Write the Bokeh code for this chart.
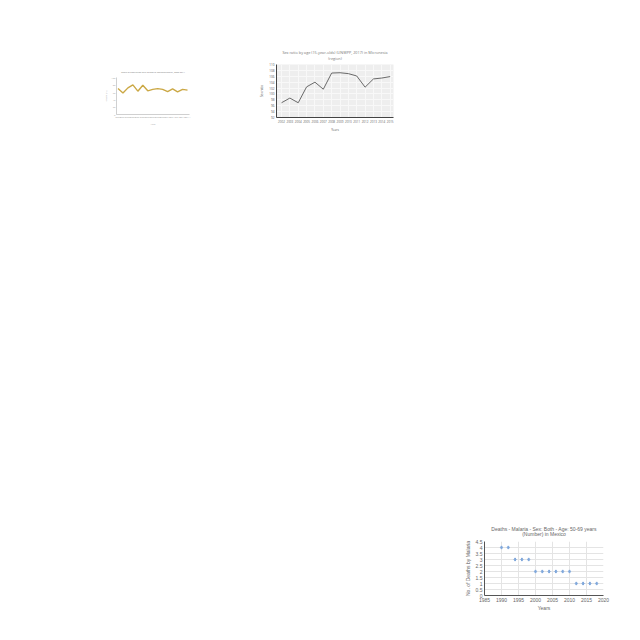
from bokeh.plotting import figure
from bokeh.layouts import column, row
from bokeh.models import Spacer, FixedTicker, Range1d, Title
from bokeh.embed import file_html
from bokeh.resources import INLINE

# ---- chart 1 (small gold line) ----
c1_years = list(range(2000, 2015))
c1_values = [70, 58, 72, 80, 63, 79, 64, 68, 70, 68, 62, 69, 61, 68, 66]
c1_title = "Share of population with access to improved water, 2000-2014"
c1_ylabel = "Share (%)"
c1_xlabel = "Year"

# ---- chart 2 (sex ratio) ----
c2_years = list(range(2002, 2016))
c2_values = [97.0, 98.6, 97.0, 102.4, 104.0, 101.6, 107.1, 107.2, 106.9, 106.1, 102.3, 105.1, 105.4, 105.9]
c2_title = ["Sex ratio by age (15-year-olds) (UNWPP, 2017) in Micronesia", "(region)"]
c2_yticks = [92, 94, 96, 98, 100, 102, 104, 106, 108, 110]
c2_ylabel = "Sex ratio"
c2_xlabel = "Years"

# ---- chart 3 (malaria deaths) ----
c3_years = [1990, 1992, 1994, 1996, 1998, 2000, 2002, 2004, 2006, 2008, 2010, 2012, 2014, 2016, 2018]
c3_values = [4, 4, 3, 3, 3, 2, 2, 2, 2, 2, 2, 1, 1, 1, 1]
c3_title = ["Deaths - Malaria - Sex: Both - Age: 50-69 years", "(Number) in Mexico"]
c3_xticks = [1985, 1990, 1995, 2000, 2005, 2010, 2015, 2020]
c3_yticks = [0, 0.5, 1, 1.5, 2, 2.5, 3, 3.5, 4, 4.5]
c3_ylabel = "No. of Deaths by Malaria"
c3_xlabel = "Years"


def style_axes(p, font, size, line_color, line_width, label_color, standoff):
    p.outline_line_color = None
    for ax in (p.xaxis, p.yaxis):
        ax.major_label_text_font = font
        ax.axis_label_text_font = font
        ax.axis_label_text_font_style = "normal"
        ax.major_label_text_font_size = size
        ax.axis_label_text_font_size = size
        ax.minor_tick_line_color = None
        ax.major_tick_line_color = None
        ax.major_tick_out = 0
        ax.major_tick_in = 0
        ax.minor_tick_out = 0
        ax.minor_tick_in = 0
        ax.axis_line_color = line_color
        ax.axis_line_width = line_width
        ax.major_label_text_color = label_color
        ax.axis_label_text_color = label_color
        ax.major_label_standoff = standoff
        ax.axis_label_standoff = standoff


def add_titles(p, lines, standoffs, font, size, color):
    # lines listed top to bottom; standoffs likewise
    p.title = None
    for line, so in reversed(list(zip(lines, standoffs))):
        p.add_layout(Title(text=line, align="center", text_font=font,
                           text_font_size=size, text_font_style="normal",
                           text_color=color, standoff=so), "above")


# chart 1
f1 = figure(width=97, height=62, output_backend="svg", toolbar_location=None,
            x_range=Range1d(1999.7, 2014.4), y_range=Range1d(0, 100),
            min_border_left=13, min_border_right=8, min_border_top=12, min_border_bottom=10)
add_titles(f1, [c1_title], [7], "Open Sans", "2.2px", "#777777")
f1.line(c1_years, c1_values, line_color="#cba845", line_width=1.4)
f1.xaxis.ticker = FixedTicker(ticks=c1_years)
f1.yaxis.ticker = FixedTicker(ticks=[0, 20, 40, 60, 80, 100])
f1.xaxis.axis_label = c1_xlabel
f1.yaxis.axis_label = c1_ylabel
f1.xgrid.grid_line_color = None
f1.ygrid.grid_line_color = None
style_axes(f1, "Open Sans", "2.5px", "#bbbbbb", 0.7, "#aaaaaa", 1)

# chart 2
f2 = figure(width=144, height=86, output_backend="svg", toolbar_location=None,
            x_range=Range1d(2001.4, 2015.4), y_range=Range1d(92, 110),
            min_border_left=20, min_border_right=7, min_border_top=16, min_border_bottom=16)
add_titles(f2, c2_title, [-11, 8], "Open Sans", "3.8px", "#777777")
f2.background_fill_color = "#eeeeee"
f2.xgrid.grid_line_color = "#f8f8f8"
f2.ygrid.grid_line_color = "#f8f8f8"
f2.line(c2_years, c2_values, line_color="#6a6a6a", line_width=1)
f2.xaxis.ticker = FixedTicker(ticks=c2_years)
f2.yaxis.ticker = FixedTicker(ticks=c2_yticks)
f2.xaxis.axis_label = c2_xlabel
f2.yaxis.axis_label = c2_ylabel
style_axes(f2, "Open Sans", "3px", "#444444", 1, "#555555", 2)
f2.xaxis.major_label_text_color = "#666666"

# chart 3
f3 = figure(width=152, height=94, output_backend="svg", toolbar_location=None,
            x_range=Range1d(1985, 2020), y_range=Range1d(0, 4.5),
            min_border_left=24, min_border_right=9, min_border_top=21, min_border_bottom=19)
add_titles(f3, c3_title, [-15, 9], "Liberation Sans", "5px", "#666666")
f3.xgrid.grid_line_color = "#e4e4e4"
f3.ygrid.grid_line_color = "#e4e4e4"
f3.scatter(c3_years, c3_values, marker="diamond", size=3.2, color="#7ea7dc")
f3.xaxis.ticker = FixedTicker(ticks=c3_xticks)
f3.yaxis.ticker = FixedTicker(ticks=c3_yticks)
f3.xaxis.axis_label = c3_xlabel
f3.yaxis.axis_label = c3_ylabel
style_axes(f3, "Liberation Sans", "5px", "#555555", 1, "#666666", 2)
f3.xaxis.axis_label_standoff = 0

layout = column(
    Spacer(width=640, height=48),
    row(Spacer(width=100, height=86), column(Spacer(width=97, height=17), f1),
        Spacer(width=59, height=86), f2),
    Spacer(width=640, height=386),
    row(Spacer(width=460, height=94), f3),
)

open("out.html", "w").write(file_html(layout, INLINE))
